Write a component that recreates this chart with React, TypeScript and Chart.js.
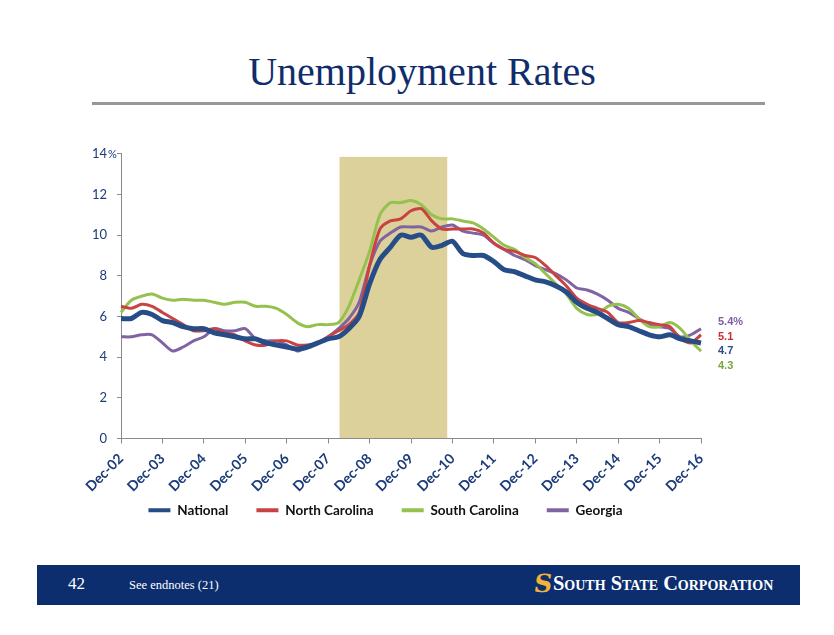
import React, { useEffect, useRef } from 'react';
import { Chart, registerables } from 'chart.js';

Chart.register(...registerables);

// ---- data (quarterly, Dec-02 .. Dec-16) ----
const quarterMonths = ['Dec', 'Mar', 'Jun', 'Sep'];
const startYear = 2002;
const quarterCount = 57;
const categories: string[] = Array.from({ length: quarterCount }, (_, i) => {
  const yr = startYear + Math.ceil(i / 4);
  return `${quarterMonths[i % 4]}-${String(yr % 100).padStart(2, '0')}`;
});

const seriesNames = ['National', 'North Carolina', 'South Carolina', 'Georgia'];
const seriesColors = ['#264d87', '#c94343', '#95c24f', '#8064a2'];
const endLabelColors = ['#2a4d86', '#c62f32', '#77a63a', '#7d5ca6'];

const national = [
  5.9, 5.9, 6.2, 6.1, 5.8, 5.7, 5.5, 5.4, 5.4, 5.2, 5.1, 5.0, 4.9, 4.9, 4.7, 4.6, 4.5, 4.4, 4.5, 4.7, 4.9, 5.0,
  5.4, 6.0, 7.6, 8.8, 9.4, 10.0, 9.9, 10.0, 9.4, 9.5, 9.7, 9.1,
  9.0, 9.0, 8.7, 8.3, 8.2, 8.0, 7.8, 7.7, 7.5, 7.2, 6.7,
  6.4, 6.2, 5.9, 5.6, 5.5, 5.3, 5.1, 5.0, 5.1, 4.9, 4.8, 4.7,
];
const northCarolina = [
  6.5, 6.4, 6.6, 6.5, 6.2, 5.9, 5.6, 5.3, 5.3, 5.4, 5.2, 5.1, 4.8, 4.6, 4.6, 4.8, 4.8, 4.6, 4.6, 4.7, 5.0, 5.3,
  5.6, 6.2, 8.5, 10.3, 10.7, 10.8, 11.2, 11.3, 10.7, 10.3, 10.3, 10.3,
  10.3, 10.1, 9.6, 9.3, 9.2, 9.0, 8.9, 8.5, 8.0, 7.5, 6.9,
  6.6, 6.4, 6.2, 5.7, 5.7, 5.8, 5.7, 5.6, 5.5, 4.9, 4.7, 5.1,
];
const southCarolina = [
  6.2, 6.8, 7.0, 7.1, 6.9, 6.8, 6.85, 6.8, 6.8, 6.7, 6.6, 6.7, 6.7, 6.5, 6.5, 6.4, 6.1, 5.7, 5.5, 5.6, 5.6, 5.7,
  6.5, 7.8, 9.2, 11.0, 11.6, 11.6, 11.7, 11.5, 11.0, 10.8, 10.8, 10.7,
  10.6, 10.3, 9.9, 9.5, 9.3, 8.9, 8.6, 8.1, 7.6, 7.1, 6.4,
  6.1, 6.1, 6.5, 6.6, 6.4, 5.9, 5.5, 5.5, 5.7, 5.4, 4.8, 4.3,
];
const georgia = [
  5.0, 5.0, 5.1, 5.1, 4.7, 4.3, 4.5, 4.8, 5.0, 5.4, 5.3, 5.3, 5.4, 4.9, 4.8, 4.8, 4.6, 4.3, 4.5, 4.7, 5.0, 5.4,
  5.9, 6.7, 8.5, 9.7, 10.1, 10.4, 10.4, 10.4, 10.2, 10.4, 10.5, 10.2,
  10.1, 10.0, 9.6, 9.3, 9.0, 8.8, 8.5, 8.3, 8.1, 7.8, 7.4,
  7.3, 7.1, 6.8, 6.4, 6.2, 5.9, 5.6, 5.5, 5.4, 5.0, 5.1, 5.4,
];
const seriesValues = [national, northCarolina, southCarolina, georgia];
const seriesWidths = [5, 3, 3, 3];

const yTicks = [0, 2, 4, 6, 8, 10, 12, 14];
// shaded period, in quarter-index units
const shadeFrom = 21.1;
const shadeTo = 31.5;
const shadeTop = 13.85;
const shadeColor = '#ddd19b';
// order of the end labels, top to bottom
const endLabelOrder = [3, 1, 0, 2];

const NAVY = '#1b3b7a';
const AXIS = '#8a8a8a';

const overlayPlugin = {
  id: 'overlay',
  beforeDatasetsDraw(chart: any) {
    const { ctx, scales } = chart;
    const x = scales.x, y = scales.y;
    const l = x.getPixelForValue(shadeFrom);
    const r = x.getPixelForValue(shadeTo);
    const t = y.getPixelForValue(shadeTop);
    const b = y.getPixelForValue(0);
    ctx.save();
    ctx.fillStyle = shadeColor;
    ctx.fillRect(l, t, r - l, b - t - 0.5);
    ctx.restore();
  },
  afterDraw(chart: any) {
    const { ctx, scales, chartArea } = chart;
    const y = scales.y;
    ctx.save();
    // "%" after top tick
    ctx.font = '11px Lato, "Open Sans", sans-serif';
    ctx.fillStyle = NAVY;
    ctx.textAlign = 'left';
    ctx.textBaseline = 'middle';
    ctx.fillText('%', chartArea.left - 13, y.getPixelForValue(yTicks[yTicks.length - 1]) + 1);
    // end labels
    ctx.font = 'bold 11px "Liberation Sans", Arial, sans-serif';
    const firstIdx = endLabelOrder[0];
    const firstVal = seriesValues[firstIdx][seriesValues[firstIdx].length - 1];
    let ly = y.getPixelForValue(firstVal) - 6.5;
    endLabelOrder.forEach((si, k) => {
      const vals = seriesValues[si];
      const v = vals[vals.length - 1].toFixed(1) + (k === 0 ? '%' : '');
      ctx.fillStyle = endLabelColors[si];
      ctx.fillText(v, chartArea.right + 17, ly);
      ly += 14.5;
    });
    ctx.restore();
  },
};

function UnemploymentChart() {
  const ref = useRef<HTMLCanvasElement | null>(null);
  useEffect(() => {
    if (!ref.current) return;
    const chart = new Chart(ref.current, {
      type: 'line',
      data: {
        labels: categories,
        datasets: seriesNames.map((name, i) => ({
          label: name,
          data: seriesValues[i],
          borderColor: seriesColors[i],
          backgroundColor: seriesColors[i],
          borderWidth: seriesWidths[i],
          pointRadius: 0,
          tension: 0.25,
          fill: false,
        })),
      },
      options: {
        animation: false,
        responsive: false,
        maintainAspectRatio: false,
        layout: { padding: { top: 13, left: 0, right: 69, bottom: 0 } },
        plugins: {
          tooltip: { enabled: false },
          legend: {
            position: 'bottom',
            labels: {
              boxWidth: 22,
              boxHeight: 4,
              padding: 28,
              color: '#111111',
              font: { family: 'Lato, "Open Sans", sans-serif', size: 13.5, weight: 'bold' },
              generateLabels: (c: any) =>
                (Chart.defaults.plugins.legend.labels.generateLabels as any)(c).map((l: any) => ({
                  ...l,
                  lineWidth: 0,
                  fillStyle: l.strokeStyle,
                })),
            },
          },
        },
        scales: {
          x: {
            type: 'category',
            offset: false,
            grid: { display: true, drawOnChartArea: false, drawTicks: true, tickLength: 5, color: AXIS },
            border: { color: AXIS, width: 1 },
            afterBuildTicks: (axis: any) => {
              axis.ticks = axis.ticks.filter((t: any) => t.value % 4 === 0);
            },
            afterFit: (axis: any) => {
              axis.height = 37;
              // let the rotated labels run past the (short) axis box
              axis._computeLabelArea = () => undefined;
            },
            ticks: {
              autoSkip: false,
              minRotation: 45,
              maxRotation: 45,
              padding: 7,
              color: NAVY,
              font: { family: 'Lato, "Open Sans", sans-serif', size: 14, weight: 'bold' },
              callback: (value: any) => categories[value as number],
            },
          },
          y: {
            min: 0,
            max: 14,
            afterFit: (axis: any) => {
              axis.width = 51;
            },
            afterBuildTicks: (axis: any) => {
              axis.ticks = yTicks.map((v) => ({ value: v }));
            },
            grid: { display: true, drawOnChartArea: false, drawTicks: true, tickLength: 4, color: AXIS },
            border: { color: AXIS, width: 1 },
            ticks: {
              padding: 10,
              color: NAVY,
              font: { family: 'Lato, "Open Sans", sans-serif', size: 13 },
              callback: (v: any) => String(v),
            },
          },
        },
      },
      plugins: [overlayPlugin],
    });
    return () => chart.destroy();
  }, []);
  return <canvas ref={ref} width={700} height={391} style={{ position: 'absolute', left: 70, top: 136, width: 700, height: 391 }} />;
}

export default function App() {
  return (
    <div style={{ position: 'fixed', left: 0, top: 0, width: 834, height: 635, background: '#ffffff', overflow: 'hidden' }}>
      <div
        style={{
          position: 'absolute',
          left: 0,
          width: 844,
          top: 48,
          textAlign: 'center',
          fontFamily: '"Liberation Serif", "Times New Roman", serif',
          fontSize: 40,
          color: '#0f2d6b',
          lineHeight: '48px',
        }}
      >
        Unemployment Rates
      </div>
      <div style={{ position: 'absolute', left: 92, top: 102, width: 673, height: 3, background: '#979797' }} />
      <UnemploymentChart />
      <div style={{ position: 'absolute', left: 37, top: 565, width: 763, height: 40, background: '#0c2d6e' }}>
        <div style={{ position: 'absolute', left: 31, top: 9, color: '#fff', fontFamily: '"Liberation Serif", serif', fontSize: 17 }}>42</div>
        <div style={{ position: 'absolute', left: 92, top: 13, color: '#fff', fontFamily: '"Liberation Serif", serif', fontSize: 12.5 }}>
          See endnotes (21)
        </div>
        <div
          style={{
            position: 'absolute',
            left: 497,
            top: 4,
            color: '#f2b338',
            fontFamily: '"DejaVu Serif", serif',
            fontWeight: 'bold',
            fontSize: 25,
            lineHeight: '30px',
            transform: 'skewX(-8deg)',
          }}
        >
          S
        </div>
        <div
          style={{
            position: 'absolute',
            left: 516,
            top: 6,
            color: '#fff',
            fontFamily: '"Liberation Serif", serif',
            fontWeight: 'bold',
            fontSize: 20.4,
            fontVariant: 'small-caps',
            letterSpacing: 0,
            lineHeight: '24px',
            whiteSpace: 'nowrap',
          }}
        >
          South State Corporation
        </div>
      </div>
    </div>
  );
}
